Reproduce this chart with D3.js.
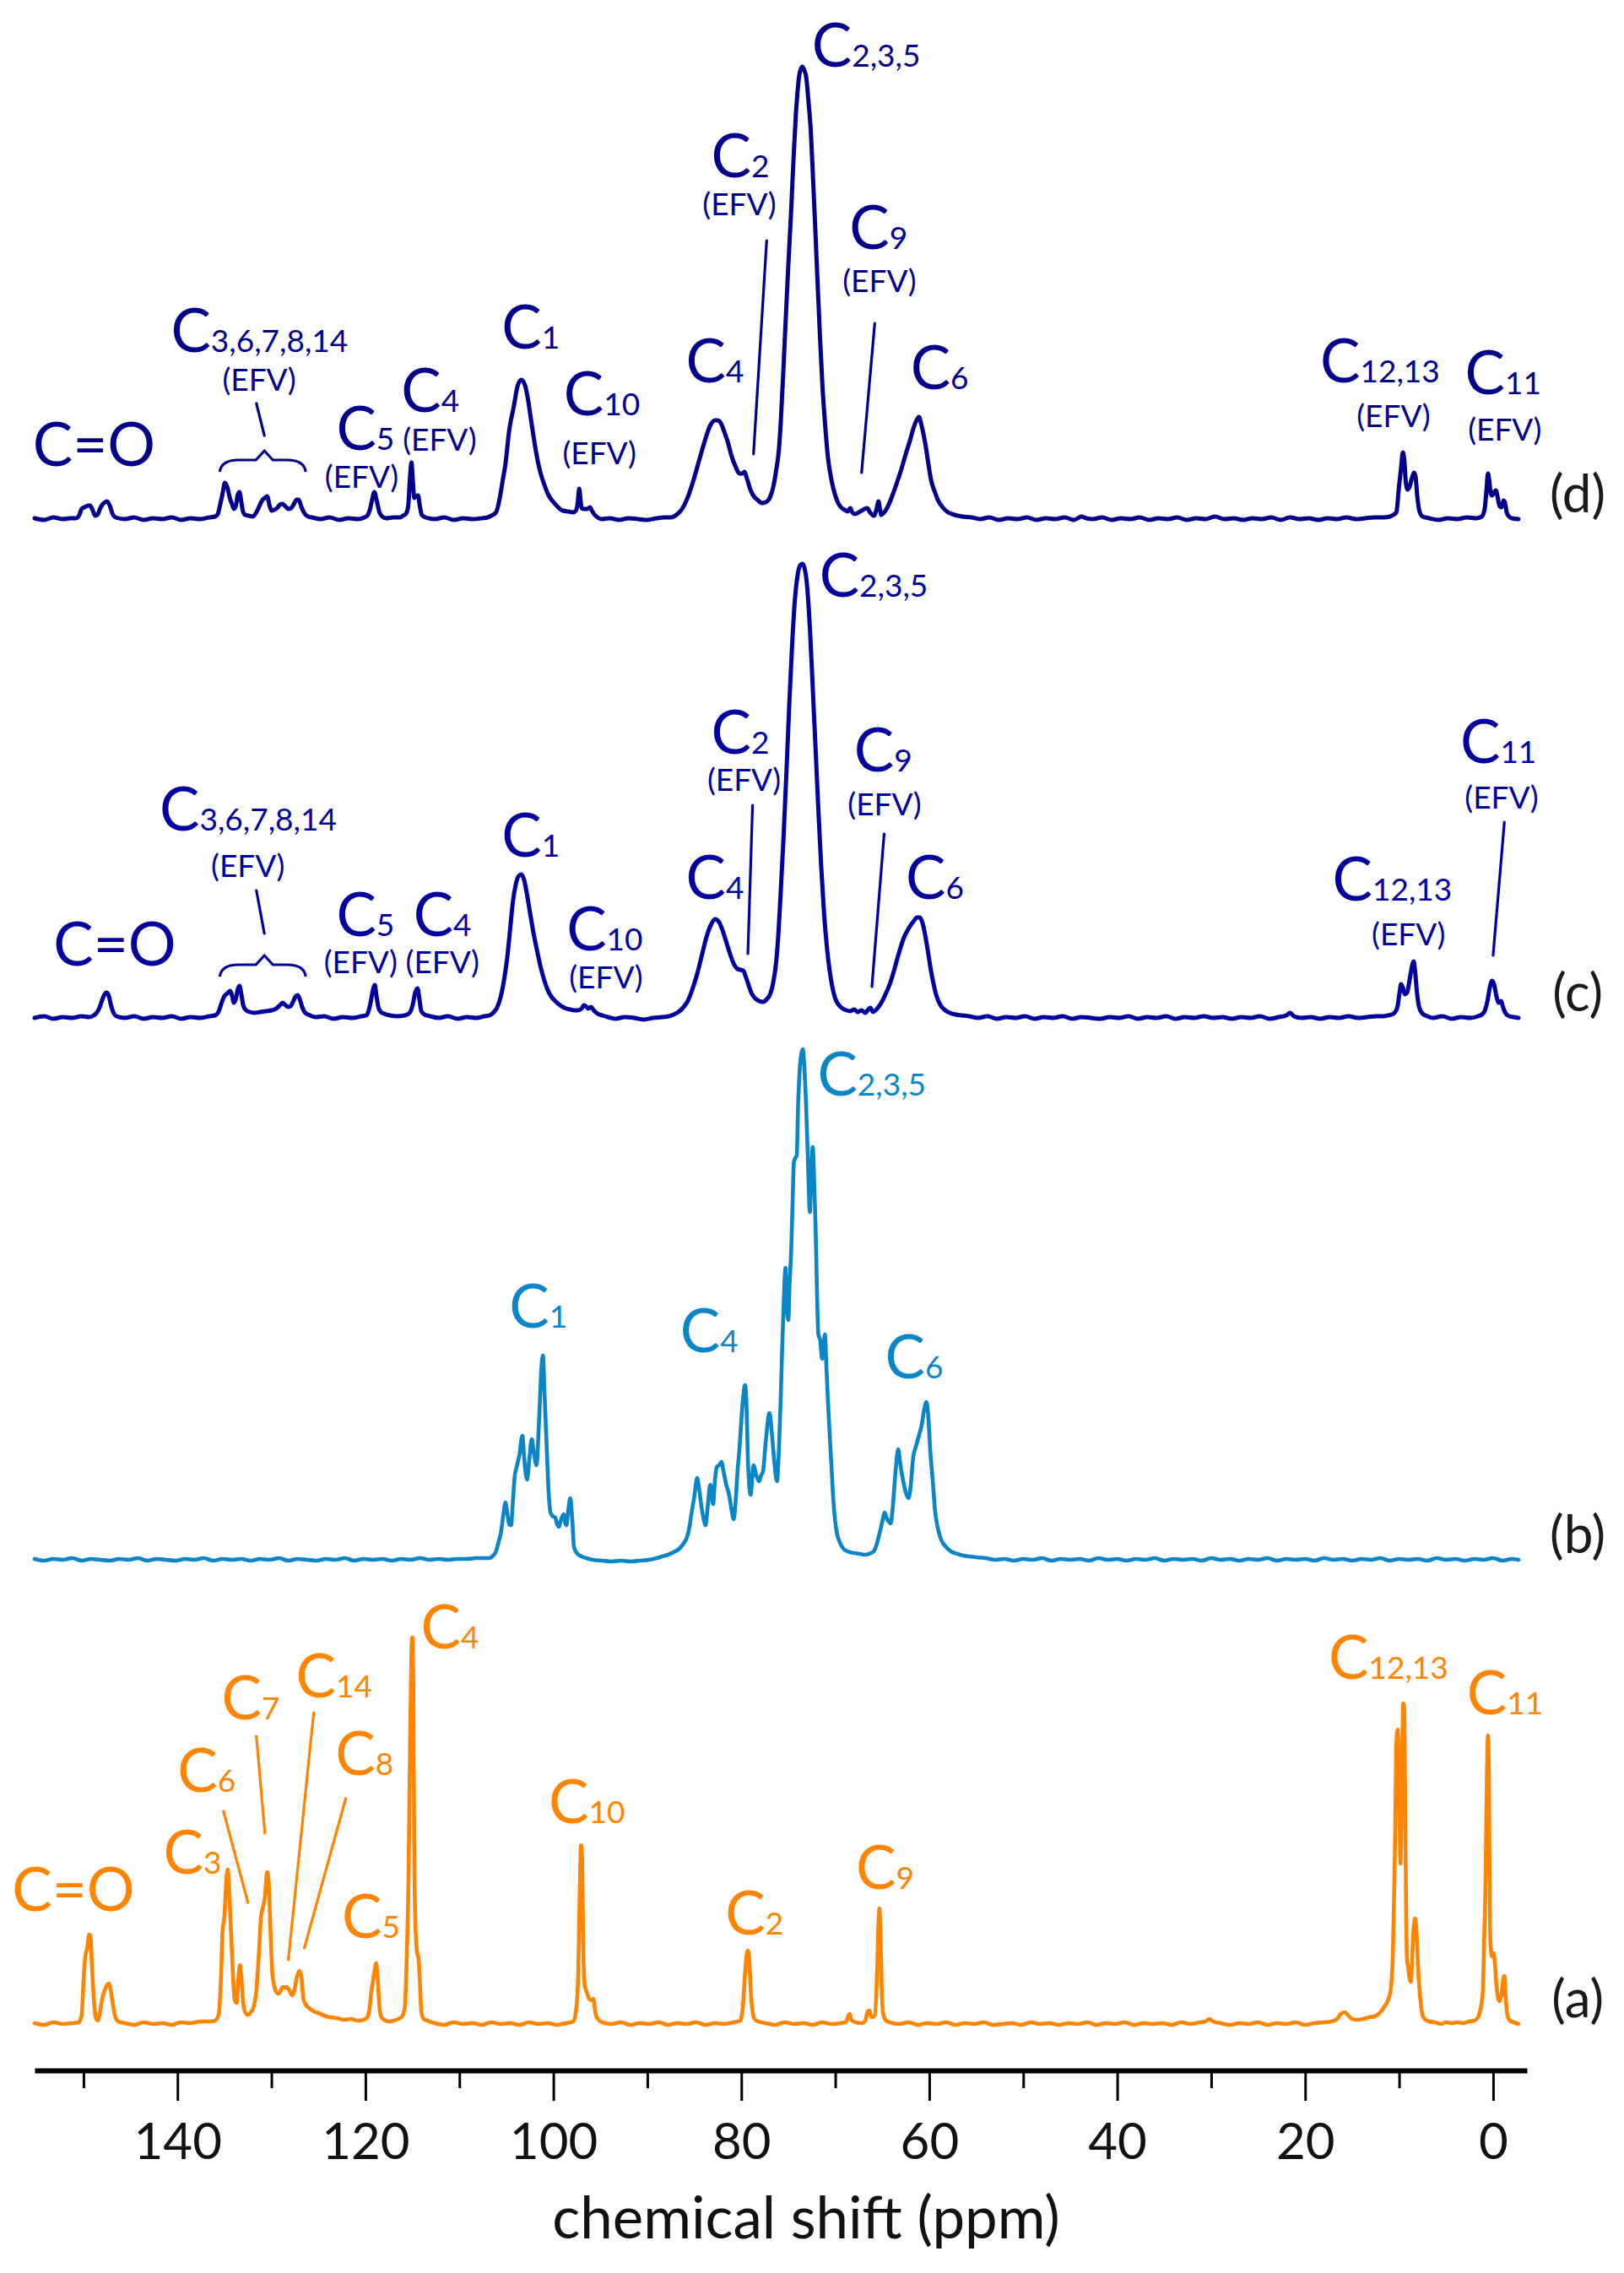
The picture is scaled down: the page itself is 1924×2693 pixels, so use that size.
<!DOCTYPE html>
<html><head><meta charset="utf-8">
<script src="https://cdn.jsdelivr.net/npm/d3@7"></script>
<style>html,body{margin:0;padding:0;background:#fff;} svg{display:block;}</style>
</head><body><svg id="chart" width="1924" height="2693"></svg>
<script>
// ---------------- DATA ----------------
const majorTicks = [0, 20, 40, 60, 80, 100, 120, 140];
const minorTicks = [10, 30, 50, 70, 90, 110, 130, 150];
const tickLabels = ["0", "20", "40", "60", "80", "100", "120", "140"];
const axisTitle = "chemical shift (ppm)";
const traceTags = ["(d)", "(c)", "(b)", "(a)"];

// spectrum (a): [ppm, intensity]
const specA = [
[155.2,1],[154.2,-1],[153.2,2],[152.2,0],[151.2,1],[150.5,2],
[150.2,10],[149.95,60],[149.8,80],[149.6,90],[149.4,106],[149.25,104],[149.1,70],[148.9,30],[148.7,8],[148.5,4],[148.3,10],[148.0,30],[147.8,38],[147.5,46],[147.3,48],[147.1,40],[146.9,25],[146.6,8],[146.3,3],
[145.6,1],[144.6,-1],[143.6,2],[142.6,0],[141.6,1],[140.6,-1],[139.6,2],[138.6,1],[137.6,3],[136.6,3],[136.0,4],
[135.6,12],[135.35,60],[135.2,110],[135.0,128],[134.8,170],[134.65,183],[134.5,160],[134.3,110],[134.1,60],[133.9,28],[133.7,25],[133.5,55],[133.35,70],[133.2,55],[133.0,25],[132.8,14],[132.5,11],[132.2,14],[131.9,20],[131.6,40],[131.3,90],[131.1,128],[130.9,138],[130.7,150],[130.45,180],[130.3,170],[130.1,110],[129.9,60],[129.7,45],[129.5,38],[129.2,36],[129.0,40],[128.8,44],[128.6,43],[128.4,44],[128.1,40],[127.8,34],[127.6,38],[127.3,55],[127.0,63],[126.8,55],[126.6,30],[126.3,22],[126.0,19],[125.5,15],[125.0,13],[124.4,10],[123.8,8],[123.0,7],[122.3,5],[121.6,6],[120.8,4],[120.2,5],[119.8,8],
[119.6,15],[119.35,40],[119.2,50],[119.0,65],[118.85,72],[118.7,55],[118.5,20],[118.3,8],[118.0,5],[117.5,3],[117.0,4],[116.5,6],[116.1,9],[115.8,20],
[115.6,80],[115.4,180],[115.25,330],[115.1,440],[115.0,458],[114.9,400],[114.8,200],[114.65,110],[114.5,85],[114.35,78],[114.2,50],[114.05,15],[113.8,6],[113.4,4],
[112.6,1],[111.6,-1],[110.6,2],[109.6,0],[108.6,1],[107.6,-1],[106.6,2],[105.6,0],[104.6,1],[103.6,-1],[102.6,2],[101.6,0],[100.6,1],[99.6,-1],[98.6,1],[97.9,3],
[97.6,15],[97.35,60],[97.2,150],[97.05,212],[96.95,200],[96.8,80],[96.65,45],[96.45,38],[96.2,30],[95.95,28],[95.75,30],[95.5,12],[95.2,5],[94.8,2],
[93.8,0],[92.8,2],[91.8,-1],[90.8,1],[89.8,0],[88.8,2],[87.8,-1],[86.8,1],[85.8,0],[84.8,2],[83.8,-1],[82.8,1],[81.8,0],[80.8,2],[80.1,4],
[79.8,25],[79.6,60],[79.4,84],[79.3,87],[79.15,75],[79.0,40],[78.8,15],[78.6,6],[78.2,3],
[77.4,1],[76.4,-1],[75.4,2],[74.4,0],[73.4,1],[72.4,-1],[71.4,2],[70.4,0],[69.4,1],[68.8,3],
[68.6,10],[68.45,12],[68.3,5],[67.8,2],[67.2,1],[66.8,4],[66.55,15],[66.35,16],[66.15,8],[65.8,10],[65.55,60],[65.4,120],[65.3,137],[65.2,110],[65.05,40],[64.9,12],[64.6,4],[64.2,2],
[63.2,0],[62.2,2],[61.2,-1],[60.2,1],[59.2,0],[58.2,2],[57.2,-1],[56.2,1],[55.2,0],[54.2,2],[53.2,-1],[52.2,0],[51.2,1],[50.2,-1],[49.2,2],[48.2,0],[47.2,1],[46.2,-1],[45.2,1],[44.2,0],[43.2,2],[42.2,-1],[41.2,1],[40.2,0],[39.2,2],[38.2,-1],[37.2,1],[36.2,0],[35.2,1],[34.2,-1],[33.2,2],[32.2,0],[31.2,2],[30.6,3],[30.2,6],[29.8,3],[29.0,1],[28.0,-1],[27.0,1],[26.0,0],[25.0,2],[24.0,-1],[23.0,1],[22.0,0],[21.0,2],[20.0,-1],[19.0,1],[18.0,2],[17.2,3],
[16.6,6],[16.2,12],[15.8,14],[15.4,10],[15.0,6],[14.4,5],[13.8,6],[13.2,8],[12.6,9],[12.0,14],[11.6,20],[11.2,28],[10.9,40],[10.65,90],[10.45,200],[10.3,330],[10.15,349],[10.0,280],[9.85,190],[9.7,300],[9.55,380],[9.45,370],[9.35,250],[9.25,130],[9.15,75],[9.05,68],[8.9,55],[8.75,50],[8.6,80],[8.45,115],[8.3,125],[8.15,110],[8.0,70],[7.85,44],[7.7,25],[7.5,10],[7.2,5],[6.8,3],
[6.2,2],[5.6,0],[5.0,2],[4.4,1],[3.8,2],[3.2,1],[2.6,3],[2.0,4],[1.6,8],[1.3,20],[1.1,37],[0.95,100],[0.8,170],[0.65,300],[0.55,342],[0.45,300],[0.35,140],[0.25,90],[0.1,80],[-0.05,84],[-0.2,70],[-0.35,47],[-0.55,30],[-0.7,27],[-0.9,35],[-1.1,55],[-1.2,57],[-1.35,30],[-1.5,12],[-1.8,4],[-2.2,2],[-2.7,0]
];

// spectrum (b)
const specB = [
[155.2,1],[154.2,-1],[153.2,1],[152.2,0],[151.2,2],[150.2,-1],[149.2,1],[148.2,0],[147.2,-1],[146.2,1],[145.2,0],[144.2,2],[143.2,-1],[142.2,1],[141.2,0],[140.2,-1],[139.2,1],[138.2,0],[137.2,2],[136.2,-1],[135.2,1],[134.2,0],[133.2,1],[132.2,-1],[131.2,1],[130.2,0],[129.2,2],[128.2,-1],[127.2,1],[126.2,0],[125.2,-1],[124.2,1],[123.2,0],[122.2,2],[121.2,-1],[120.2,1],[119.2,0],[118.2,1],[117.2,-1],[116.2,1],[115.2,0],[114.2,2],[113.2,0],[112.2,1],[111.2,0],[110.2,1],[109.2,1],[108.2,2],[107.2,2],
[106.8,2],[106.5,4],[106.1,10],[105.8,22],[105.6,31],[105.3,55],[105.1,68],[104.9,55],[104.7,42],[104.5,41],[104.3,70],[104.1,100],[103.9,110],[103.6,125],[103.3,147],[103.1,120],[102.8,95],[102.55,120],[102.3,143],[102.05,125],[101.8,112],[101.5,170],[101.25,230],[101.1,242],[100.95,200],[100.7,131],[100.5,80],[100.3,56],[100.1,52],[99.8,50],[99.6,42],[99.4,39],[99.2,47],[98.9,54],[98.75,44],[98.6,41],[98.4,60],[98.2,73],[98.0,50],[97.8,15],[97.5,8],[97.0,4],[96.5,2],
[95.8,0],[94.8,-1],[93.8,-2],[92.8,-1],[91.8,-2],[90.8,-1],[89.8,0],[89.0,2],[88.4,4],[87.8,6],[87.2,9],[86.6,13],[86.1,20],[85.8,26],[85.5,40],[85.3,55],[85.0,75],[84.7,97],[84.5,85],[84.2,60],[84.0,48],[83.8,41],[83.6,60],[83.3,89],[83.0,66],[82.8,95],[82.6,110],[82.35,112],[82.1,116],[81.9,105],[81.6,89],[81.3,77],[81.05,60],[80.8,48],[80.6,70],[80.4,105],[80.2,131],[79.9,180],[79.6,207],[79.45,185],[79.3,120],[79.0,77],[78.85,95],[78.7,112],[78.4,100],[78.1,93],[77.9,100],[77.7,104],[77.4,140],[77.0,174],[76.75,150],[76.5,118],[76.2,93],[76.0,130],[75.8,193],[75.65,250],[75.5,300],[75.3,346],[75.15,300],[75.0,284],[74.85,330],[74.7,363],[74.55,420],[74.4,471],[74.25,476],[74.1,479],[73.95,540],[73.8,578],[73.6,600],[73.45,605],[73.3,585],[73.1,537],[72.9,470],[72.7,412],[72.55,460],[72.4,489],[72.25,450],[72.1,396],[71.95,320],[71.8,267],[71.6,260],[71.4,238],[71.25,255],[71.1,267],[70.95,230],[70.8,193],[70.6,150],[70.4,110],[70.2,70],[70.0,45],[69.8,30],[69.6,23],[69.2,14],[68.7,10],[68.0,8],[67.4,7],[66.8,6],[66.2,8],[65.9,10],[65.6,18],[65.3,31],[65.0,45],[64.75,56],[64.55,50],[64.3,45],[64.1,43],[63.9,60],[63.7,89],[63.5,115],[63.3,131],[63.1,115],[62.8,95],[62.5,80],[62.2,73],[62.0,85],[61.7,122],[61.4,135],[61.1,147],[60.8,160],[60.5,180],[60.3,187],[60.1,170],[59.9,131],[59.6,90],[59.4,60],[59.1,38],[58.7,23],[58.2,15],[57.7,10],[57.0,7],[56.4,5],[55.7,4],[55.0,3],
[54.0,2],[53.0,0],[52.0,1],[51.0,-1],[50.0,1],[49.0,0],[48.0,2],[47.0,-1],[46.0,1],[45.0,0],[44.0,1],[43.0,-1],[42.0,2],[41.0,0],[40.0,1],[39.0,-1],[38.0,1],[37.0,0],[36.0,2],[35.0,-1],[34.0,1],[33.0,0],[32.0,1],[31.0,-1],[30.0,2],[29.0,0],[28.0,1],[27.0,-1],[26.0,1],[25.0,0],[24.0,2],[23.0,-1],[22.0,1],[21.0,0],[20.0,1],[19.0,-1],[18.0,2],[17.0,0],[16.0,1],[15.0,-1],[14.0,1],[13.0,0],[12.0,2],[11.0,-1],[10.0,1],[9.0,0],[8.0,1],[7.0,-1],[6.0,2],[5.0,0],[4.0,1],[3.0,-1],[2.0,1],[1.0,0],[0.0,2],[-1.0,-1],[-2.0,1],[-2.7,0]
];

// spectrum (c)
const specC = [
[155.2,0],[154.2,2],[153.2,-1],[152.2,1],[151.2,0],[150.2,2],[149.4,1],[148.9,3],
[148.6,6],[148.3,12],[148.05,20],[147.8,27],[147.55,30],[147.3,26],[147.05,14],[146.8,6],[146.5,2],
[145.6,0],[144.6,2],[143.6,-1],[142.6,1],[141.6,0],[140.6,2],[139.6,-1],[138.6,1],[137.6,0],[136.6,2],[136.0,3],
[135.6,8],[135.3,18],[135.0,26],[134.7,29],[134.4,32],[134.2,27],[134.0,18],[133.8,22],[133.55,35],[133.4,38],[133.2,28],[133.0,15],[132.7,9],[132.3,7],[131.8,6],[131.2,7],[130.6,8],[130.0,9],[129.5,11],[129.1,15],[128.8,18],[128.5,15],[128.2,13],[127.95,14],[127.7,19],[127.45,25],[127.2,27],[126.95,21],[126.7,12],[126.4,6],[125.9,3],[125.3,1],
[124.4,2],[123.4,-1],[122.4,1],[121.4,0],[120.4,2],[119.9,3],
[119.7,7],[119.45,18],[119.2,33],[119.0,39],[118.85,28],[118.6,12],[118.35,7],[118.0,5],[117.4,3],[116.6,2],[115.8,3],[115.3,6],[114.95,16],[114.7,30],[114.45,35],[114.25,22],[114.05,8],[113.7,4],[113.1,2],
[112.2,0],[111.2,2],[110.2,-1],[109.2,1],[108.2,0],[107.3,2],
[106.8,3],[106.4,6],[106.0,12],[105.6,25],[105.2,48],[104.9,72],[104.6,105],[104.3,138],[104.0,158],[103.7,168],[103.4,170],[103.1,163],[102.8,146],[102.5,126],[102.1,100],[101.7,78],[101.3,58],[100.95,44],[100.6,33],[100.2,25],[99.8,20],[99.4,16],[99.0,13],[98.6,11],[98.2,10],[97.8,9],[97.4,9],[97.0,11],[96.75,15],[96.55,14],[96.3,11],[96.0,13],[95.7,9],[95.3,5],[94.8,3],[94.2,1],
[93.4,-1],[92.4,1],[91.4,0],[90.4,-2],[89.4,0],[88.4,1],[87.7,2],
[87.2,4],[86.7,7],[86.2,12],[85.7,20],[85.2,34],[84.7,52],[84.2,74],[83.7,96],[83.2,111],[82.8,117],[82.4,114],[82.0,104],[81.6,90],[81.2,76],[80.8,64],[80.4,58],[80.1,57],[79.8,56],[79.5,48],[79.2,38],[78.9,29],[78.5,23],[78.1,20],[77.7,19],[77.3,22],[76.9,29],[76.6,42],[76.3,65],[76.05,100],[75.8,150],[75.5,215],[75.2,290],[74.9,370],[74.6,440],[74.3,495],[74.0,525],[73.75,536],[73.5,538],[73.25,532],[73.0,512],[72.7,462],[72.4,392],[72.1,320],[71.8,247],[71.5,180],[71.2,125],[70.9,85],[70.6,56],[70.3,36],[70.0,23],[69.6,15],[69.2,11],[68.8,9],[68.4,8],[68.0,10],[67.6,7],[67.2,9],[66.8,6],[66.5,10],[66.25,12],[66.0,7],[65.7,9],[65.4,13],[65.1,18],[64.7,27],[64.2,40],[63.7,58],[63.2,78],[62.7,95],[62.2,106],[61.7,114],[61.3,119],[61.0,119],[60.7,112],[60.4,96],[60.1,76],[59.8,55],[59.5,38],[59.2,25],[58.8,15],[58.3,9],[57.8,6],[57.2,4],[56.5,3],[55.8,2],
[54.8,0],[53.8,2],[52.8,-1],[51.8,1],[50.8,0],[49.8,2],[48.8,-1],[47.8,1],[46.8,0],[45.8,2],[44.8,-1],[43.8,1],[42.8,0],[41.8,-1],[40.8,1],[39.8,0],[38.8,2],[37.8,-1],[36.8,1],[35.8,0],[34.8,2],[33.8,-1],[32.8,1],[31.8,0],[30.8,2],[29.8,0],[28.8,1],[27.8,-1],[26.8,1],[25.8,0],[24.8,2],[23.8,-1],[22.8,1],[22.0,3],[21.6,6],[21.2,2],[20.4,0],[19.4,1],[18.4,-1],[17.4,1],[16.4,0],[15.4,2],[14.4,0],[13.4,1],[12.4,2],[11.6,2],
[11.2,3],[10.8,4],[10.5,6],[10.2,12],[9.95,30],[9.8,40],[9.6,36],[9.4,28],[9.15,30],[8.9,44],[8.65,60],[8.45,67],[8.3,55],[8.1,30],[7.85,12],[7.5,5],[7.0,2],
[6.4,0],[5.4,2],[4.4,-1],[3.4,1],[2.4,0],[1.6,2],
[1.2,4],[0.9,8],[0.6,20],[0.35,36],[0.1,44],[-0.1,40],[-0.35,26],[-0.6,18],[-0.85,20],[-1.05,13],[-1.3,6],[-1.7,2],[-2.2,1],[-2.7,0]
];

// spectrum (d)
const specD = [
[155.2,1],[154.2,-1],[153.2,2],[152.2,0],[151.4,1],[150.8,1],
[150.4,6],[150.2,12],[149.9,14],[149.5,16],[149.3,16],[149.0,10],[148.75,4],[148.5,5],[148.25,12],[148.0,17],[147.7,20],[147.5,21],[147.2,16],[146.9,6],[146.6,2],
[145.6,0],[144.6,2],[143.6,-1],[142.6,1],[141.6,0],[140.6,2],[139.6,-1],[138.6,1],[137.6,0],[136.6,2],[136.0,3],
[135.7,6],[135.5,15],[135.2,30],[134.95,43],[134.7,38],[134.4,24],[134.2,18],[134.0,12],[133.8,15],[133.6,28],[133.4,32],[133.2,20],[133.0,8],[132.8,5],[132.4,4],[132.0,3],[131.6,8],[131.3,15],[131.0,22],[130.7,25],[130.45,27],[130.2,16],[130.0,10],[129.7,11],[129.4,13],[129.1,17],[128.8,18],[128.5,15],[128.2,12],[127.9,13],[127.6,18],[127.3,23],[127.1,23],[126.8,14],[126.5,7],[126.1,3],[125.7,2],
[124.8,0],[123.8,2],[122.8,-1],[121.8,1],[120.8,0],[120.1,2],
[119.8,4],[119.55,10],[119.3,22],[119.05,32],[118.8,22],[118.5,8],[118.2,3],[117.8,1],[117.0,2],[116.3,2],
[116.0,4],[115.7,6],[115.45,15],[115.25,50],[115.1,67],[114.95,45],[114.8,25],[114.6,27],[114.4,28],[114.2,15],[114.0,5],[113.6,2],
[112.6,0],[111.6,2],[110.6,-1],[109.6,1],[108.6,0],[107.6,1],[107.0,2],
[106.6,4],[106.1,8],[105.7,25],[105.4,45],[105.1,65],[104.7,105],[104.2,134],[103.8,158],[103.4,165],[103.0,158],[102.7,142],[102.3,112],[101.8,77],[101.4,56],[101.0,42],[100.5,28],[99.9,19],[99.4,13],[99.0,10],[98.4,9],[97.9,8],[97.6,10],[97.4,20],[97.25,36],[97.1,22],[97.0,13],[96.7,12],[96.4,12],[96.1,14],[95.9,10],[95.6,5],[95.3,2],[94.9,0],
[94.0,1],[93.0,-1],[92.0,1],[91.0,0],[90.0,-1],[89.0,1],[88.2,2],
[87.5,2],[86.8,6],[86.3,12],[85.8,23],[85.2,42],[84.5,69],[83.9,92],[83.3,111],[82.8,117],[82.5,117],[82.1,112],[81.8,103],[81.4,90],[81.1,77],[80.6,62],[80.2,54],[79.9,54],[79.65,56],[79.4,48],[79.0,34],[78.6,26],[78.3,23],[77.8,19],[77.4,20],[76.9,27],[76.6,38],[76.3,57],[76.0,82],[75.8,115],[75.55,170],[75.3,230],[75.0,300],[74.7,364],[74.45,425],[74.2,478],[74.0,508],[73.8,528],[73.5,536],[73.3,532],[73.1,524],[72.85,495],[72.6,459],[72.35,400],[72.1,337],[71.85,272],[71.6,210],[71.35,155],[71.1,115],[70.8,75],[70.4,46],[70.0,28],[69.7,19],[69.3,13],[69.0,11],[68.7,9],[68.4,13],[68.2,8],[67.9,6],[67.5,8],[67.2,10],[66.9,12],[66.6,13],[66.3,8],[65.9,4],[65.6,12],[65.4,21],[65.25,12],[65.1,5],[64.8,8],[64.6,11],[64.2,20],[63.6,38],[63.0,58],[62.5,77],[62.0,95],[61.7,107],[61.4,116],[61.1,121],[60.8,110],[60.4,88],[60.1,66],[59.8,46],[59.4,32],[59.1,23],[58.5,13],[58.0,8],[57.3,5],[56.5,3],[55.5,2],
[54.6,0],[53.6,2],[52.6,-1],[51.6,1],[50.6,0],[49.6,2],[48.6,-1],[47.6,1],[46.6,0],[45.6,2],[44.6,-1],[43.8,3],[43.3,1],[42.6,0],[41.6,2],[40.6,-1],[39.6,1],[38.6,0],[37.6,2],[36.6,-1],[35.6,1],[34.6,0],[33.6,2],[32.6,-1],[31.6,1],[30.6,0],[29.6,3],[28.6,0],[27.6,1],[26.6,-1],[25.6,1],[24.6,0],[23.6,2],[22.6,-1],[21.6,2],[20.6,0],[19.6,1],[18.6,-1],[17.6,1],[16.6,0],[15.6,2],[14.6,0],[13.6,1],[12.6,2],[11.6,2],
[11.0,3],[10.6,5],[10.3,8],[10.0,40],[9.8,60],[9.6,79],[9.45,70],[9.3,45],[9.1,35],[8.9,38],[8.6,50],[8.4,55],[8.25,50],[8.05,25],[7.8,8],[7.5,3],
[6.8,1],[5.8,-1],[4.8,1],[3.8,0],[2.8,2],[1.8,1],
[1.2,3],[0.9,12],[0.7,35],[0.55,54],[0.4,45],[0.25,30],[0.1,28],[-0.1,32],[-0.3,34],[-0.5,25],[-0.7,15],[-0.9,14],[-1.1,22],[-1.25,20],[-1.45,8],[-1.7,3],[-2.0,1],[-2.7,0]
];

// peak labels: [main, subscript, ppm (left), intensity (baseline)]
const labelsA = [["C=O","",157.6,134],["C","3",141.5,178],["C","6",140.0,275],["C","7",135.3,361],["C","14",127.4,387],["C","8",123.2,295],["C","5",122.5,102],["C","4",114.1,445],["C","10",100.5,238],["C","2",81.7,106],["C","9",67.8,160],["C","12,13",17.5,409],["C","11",2.8,367]];
const labelsB = [["C","1",104.7,275],["C","4",86.5,246],["C","2,3,5",71.9,550],["C","6",64.7,215]];
const labelsC = [["C=O","",153.2,62],["C","3,6,7,8,14",141.9,222],["C","5",123.1,97],["C","4",114.9,97],["C","1",105.5,191],["C","10",98.6,80],["C","4",85.9,141],["C","2",83.2,313],["C","2,3,5",71.7,499],["C","9",68.0,292],["C","6",62.5,141],["C","12,13",17.1,139],["C","11",3.5,302]];
const labelsD = [["C=O","",155.4,63],["C","3,6,7,8,14",140.7,198],["C","5",123.1,82],["C","4",116.2,127],["C","1",105.5,202],["C","10",98.9,123],["C","4",85.9,162],["C","2",83.2,405],["C","2,3,5",72.5,536],["C","9",68.5,320],["C","6",62.0,154],["C","12,13",18.4,162],["C","11",3.0,148]];
// "(EFV)" notes: [ppm (centre), intensity (baseline)]
const efvC = [[132.5,167],[120.5,53],[111.8,53],[94.4,35],[79.7,269],[64.75,240],[9.0,86],[-0.9,248]];
const efvD = [[131.3,152],[120.4,37],[112.1,81],[95.1,65],[80.2,360],[65.3,269],[10.6,109],[-1.25,93]];
// leader lines: [[ppm1, int1], [ppm2, int2]]
const leadersA = [[[135.1,252],[132.5,144]],[[131.6,341],[130.7,226]],[[125.5,369],[128.2,76]],[[122.1,267],[126.5,90]]];
const leadersC = [[[131.6,151],[130.75,100]],[[78.8,252],[79.3,76]],[[64.8,218],[66.1,37]],[[-1.2,232],[0.0,74]]];
const leadersD = [[[131.6,137],[130.75,99]],[[77.3,330],[78.7,77]],[[65.8,232],[67.2,55]]];
// braces: [ppm left, ppm apex, ppm right, intensity of bar]
const braceC = [135.5, 130.75, 126.35, 63];
const braceD = [135.5, 130.75, 126.35, 70];

// ---------------- DRAWING ----------------
const W = 1924, H = 2693;
const FONT = "Lato, 'Open Sans', sans-serif";
const svg = d3.select("#chart");
svg.append("rect").attr("width", W).attr("height", H).attr("fill", "#fff");

const x = d3.scaleLinear().domain([155.2, -3.6]).range([41, 1809]);

const traces = [
  {data: specD, base: 615,  color: "#00008a", width: 5,   labels: labelsD, efv: efvD, leaders: leadersD, brace: braceD, tag: traceTags[0]},
  {data: specC, base: 1206, color: "#00009e", width: 5,   labels: labelsC, efv: efvC, leaders: leadersC, brace: braceC, tag: traceTags[1]},
  {data: specB, base: 1848, color: "#0a86c8", width: 4.6, labels: labelsB, efv: [], leaders: [], brace: null, tag: traceTags[2]},
  {data: specA, base: 2398, color: "#ff8400", width: 4.6, labels: labelsA, efv: [], leaders: leadersA, brace: null, tag: traceTags[3]}
];

traces.forEach(t => {
  const y = d3.scaleLinear().domain([0, 600]).range([t.base, t.base - 600]);
  const g = svg.append("g");
  const line = d3.line().x(d => x(d[0])).y(d => y(d[1])).curve(d3.curveMonotoneX);
  g.append("path").datum(t.data).attr("d", line)
    .attr("fill", "none").attr("stroke", t.color).attr("stroke-width", t.width)
    .attr("stroke-linejoin", "round").attr("stroke-linecap", "round");

  // leader lines
  g.selectAll("line.leader").data(t.leaders).enter().append("line")
    .attr("x1", d => x(d[0][0])).attr("y1", d => y(d[0][1]))
    .attr("x2", d => x(d[1][0])).attr("y2", d => y(d[1][1]))
    .attr("stroke", t.color).attr("stroke-width", 3.2).attr("stroke-linecap", "round");

  // brace
  if (t.brace) {
    const [pl, pa, pr, hb] = t.brace;
    const xl = x(pl), xa = x(pa), xr = x(pr), yb = y(hb);
    const p = d3.path();
    p.moveTo(xl, yb + 14);
    p.quadraticCurveTo(xl + 2, yb, xl + 22, yb);
    p.lineTo(xa - 10, yb);
    p.lineTo(xa, yb - 11);
    p.lineTo(xa + 10, yb);
    p.lineTo(xr - 22, yb);
    p.quadraticCurveTo(xr - 2, yb, xr, yb + 14);
    g.append("path").attr("d", p.toString()).attr("fill", "none")
      .attr("stroke", t.color).attr("stroke-width", 3.2).attr("stroke-linejoin", "round");
  }

  // peak labels
  t.labels.forEach(l => {
    const tx = g.append("text").attr("x", x(l[2])).attr("y", y(l[3]))
      .attr("fill", t.color).attr("font-family", FONT).attr("font-size", 71);
    tx.append("tspan").text(l[0]);
    if (l[1]) tx.append("tspan").attr("font-size", 37).text(l[1]);
  });
  // (EFV)
  g.selectAll("text.efv").data(t.efv).enter().append("text").attr("class", "efv")
    .attr("x", d => x(d[0])).attr("y", d => y(d[1]))
    .attr("text-anchor", "middle").attr("fill", t.color)
    .attr("font-family", FONT).attr("font-size", 37).text("(EFV)");

  // trace tag
  g.append("text").attr("x", x(-9.0)).attr("y", y(8))
    .attr("text-anchor", "middle").attr("fill", "#1a1a1a")
    .attr("font-family", FONT).attr("font-size", 62).text(t.tag);
});

// x axis
const axisY = 2453;
const gMinor = svg.append("g").attr("transform", `translate(0,${axisY})`)
  .call(d3.axisBottom(x).tickValues(minorTicks).tickSize(21).tickSizeOuter(0).tickFormat(""));
gMinor.select(".domain").remove();
gMinor.selectAll(".tick line").attr("stroke", "#000").attr("stroke-width", 3);

const gAx = svg.append("g").attr("transform", `translate(0,${axisY})`)
  .call(d3.axisBottom(x).tickValues(majorTicks).tickSize(36).tickSizeOuter(0).tickPadding(26)
    .tickFormat(d => tickLabels[majorTicks.indexOf(d)]));
gAx.attr("font-family", FONT).attr("font-size", 60);
gAx.select(".domain").attr("stroke", "#000").attr("stroke-width", 6);
gAx.selectAll(".tick line").attr("stroke", "#000").attr("stroke-width", 3);
gAx.selectAll(".tick text").attr("fill", "#111");

svg.append("text").attr("x", 955).attr("y", 2652).attr("text-anchor", "middle")
  .attr("font-family", FONT).attr("font-size", 69).attr("fill", "#111").text(axisTitle);
</script>
</body></html>
